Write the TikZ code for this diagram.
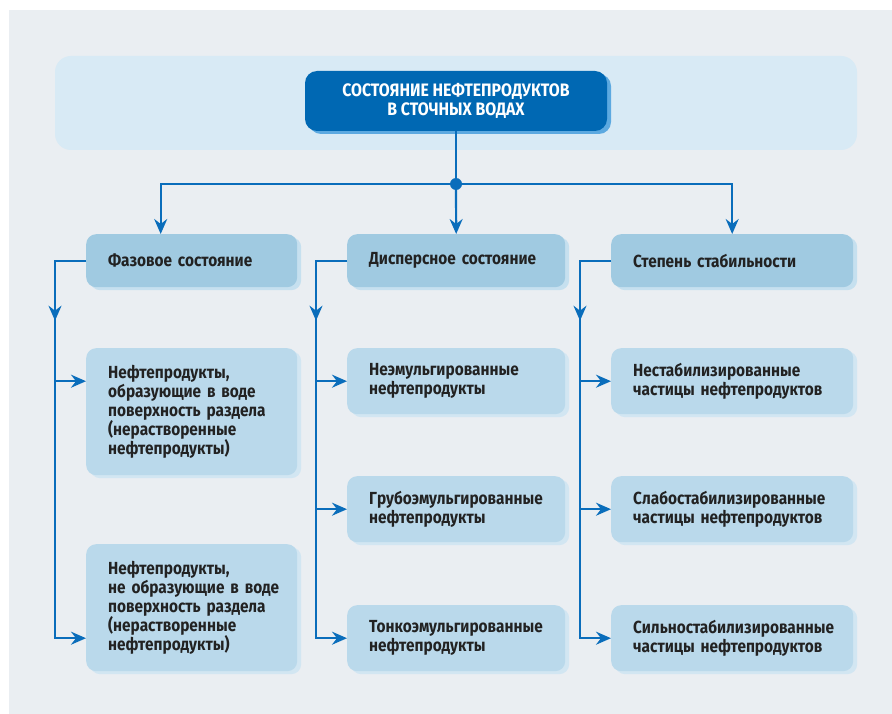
\documentclass[tikz,border=0pt]{standalone}
\usepackage{fontspec}
\setmainfont{Fira Sans}[BoldFont={Fira Sans Bold}, FakeStretch=0.88]
\usetikzlibrary{arrows.meta,shadows}

\definecolor{panelgray}{HTML}{EAEEF2}
\definecolor{bandblue}{HTML}{D8EAF5}
\definecolor{titleblue}{HTML}{0068B3}
\definecolor{titleshadow}{HTML}{5CA9E0}
\definecolor{hdrblue}{HTML}{A0CAE1}
\definecolor{hdrshadow}{HTML}{C6E0EF}
\definecolor{itemblue}{HTML}{BAD9EB}
\definecolor{itemshadow}{HTML}{D2E6F2}
\definecolor{lineblue}{HTML}{0A6DBB}
\definecolor{textdark}{HTML}{222222}

\tikzset{
    box/.style={rounded corners=10pt, anchor=north west, inner xsep=22pt, inner ysep=0pt,
        align=left, text=textdark, font=\bfseries\fontsize{17.5}{19}\selectfont},
    hdr/.style={box, fill=hdrblue, minimum height=53pt,
        general shadow={fill=hdrshadow, shadow xshift=4pt, shadow yshift=-3pt}},
    item/.style={box, fill=itemblue,
        general shadow={fill=itemshadow, shadow xshift=4pt, shadow yshift=-3pt}},
    colA/.style={text width=167pt},
    colB/.style={text width=174pt},
    colC/.style={text width=198pt},
    link/.style={draw=lineblue, line width=2.2pt},
    arr/.style={link, -{Stealth[length=15pt,width=13pt,inset=5pt]}},
}

\begin{document}
\begin{tikzpicture}[x=1pt,y=1pt]
    \useasboundingbox (0,0) rectangle (892,-714);
    \fill[panelgray] (9,-10) rectangle (892,-714);
    \fill[bandblue, rounded corners=16pt] (55,-56) rectangle (857,-150);

    % title
    \node[fill=titleblue, text=white, rounded corners=12pt, minimum width=302pt, minimum height=60pt,
        align=center, font=\bfseries\fontsize{18}{19.5}\selectfont,
        general shadow={fill=titleshadow, shadow xshift=4pt, shadow yshift=-3pt}]
        (title) at (456,-101) {СОСТОЯНИЕ НЕФТЕПРОДУКТОВ\\В СТОЧНЫХ ВОДАХ};
    \coordinate (hub) at (456,-184);

    % headers
    \node[hdr, colA] (phase) at (86,-234) {Фазовое состояние};
    \node[hdr, colB] (disp) at (347,-234) {Дисперсное состояние};
    \node[hdr, colC] (stab) at (611,-234) {Степень стабильности};

    % items
    \node[item, colA, minimum height=127pt] (ph1) at (86,-348)
        {Нефтепродукты,\\образующие в воде\\поверхность раздела\\(нерастворенные\\нефтепродукты)};
    \node[item, colA, minimum height=127pt] (ph2) at (86,-544)
        {Нефтепродукты,\\\mbox{не образующие в воде}\\поверхность раздела\\(нерастворенные\\нефтепродукты)};
    \node[item, colB, minimum height=66pt] (d1) at (347,-348) {Неэмульгированные\\нефтепродукты};
    \node[item, colB, minimum height=66pt] (d2) at (347,-476) {Грубоэмульгированные\\нефтепродукты};
    \node[item, colB, minimum height=66pt] (d3) at (347,-605) {Тонкоэмульгированные\\нефтепродукты};
    \node[item, colC, minimum height=66pt] (s1) at (611,-348) {Нестабилизированные\\частицы нефтепродуктов};
    \node[item, colC, minimum height=66pt] (s2) at (611,-476) {Слабостабилизированные\\частицы нефтепродуктов};
    \node[item, colC, minimum height=66pt] (s3) at (611,-605) {Сильностабилизированные\\частицы нефтепродуктов};

    % from title to headers
    \draw[link] (title.south) -- (hub);
    \draw[arr] (hub) -| ([xshift=-31pt]phase.north);
    \draw[arr] (hub) -- (disp.north);
    \draw[arr] (hub) -| (stab.north);
    \fill[lineblue] (hub) circle (6pt);

    % phase branch
    \coordinate (ta) at ([xshift=-31pt]phase.west);
    \draw[arr] (phase.west) -- (ta) |- (ph2.west |- d3.west);
    \draw[arr] (ta) -- ++(0,-60);
    \draw[arr] (ta |- d1.west) -- (ph1.west |- d1.west);

    % dispersion branch
    \coordinate (tb) at ([xshift=-31pt]disp.west);
    \draw[arr] (disp.west) -- (tb) |- (d3.west);
    \draw[arr] (tb) -- ++(0,-60);
    \draw[arr] (tb |- d1.west) -- (d1.west);
    \draw[arr] (tb |- d2.west) -- (d2.west);

    % stability branch
    \coordinate (tc) at ([xshift=-31pt]stab.west);
    \draw[arr] (stab.west) -- (tc) |- (s3.west);
    \draw[arr] (tc) -- ++(0,-60);
    \draw[arr] (tc |- s1.west) -- (s1.west);
    \draw[arr] (tc |- s2.west) -- (s2.west);
\end{tikzpicture}
\end{document}
